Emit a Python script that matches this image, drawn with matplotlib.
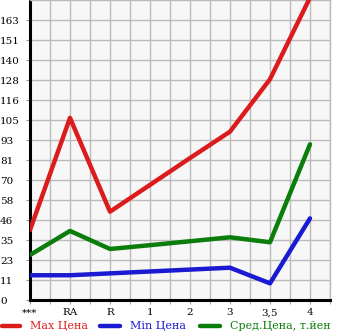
import numpy as np
import matplotlib.pyplot as plt
from matplotlib.lines import Line2D

# values
categories = ['***', 'RA', 'R', '1', '2', '3', '3,5', '4']
max_price = [40.7, 106, 51.4, 67, 82.6, 98, 128.5, 176]
min_price = [14.4, 14.4, 15.5, 16.6, 17.7, 18.8, 9.7, 47.5]
avg_price = [26.2, 40.2, 29.7, 31.9, 34.2, 36.5, 33.6, 90.6]
ytick_labels = ['0', '11', '23', '35', '46', '58', '70', '81', '93', '105',
                '116', '128', '140', '151', '163']
legend_labels = ['Max Цена', 'Min Цена', 'Сред.Цена, т.йен']

step = 174.6 / 15
red = '#dc1c1c'
blue = '#1a1ad2'
green = '#0a7d0a'
W, H = 345, 335

fig = plt.figure(figsize=(3.45, 3.35), dpi=100)
ax = fig.add_axes([30 / W, 35 / H, 300 / W, 300 / H])
ax.set_facecolor('#f7f7f7')

x = np.arange(len(categories))
ax.plot(x, max_price, color=red, lw=3.2, solid_capstyle='round', zorder=3)
ax.plot(x, avg_price, color=green, lw=3.2, solid_capstyle='round', zorder=3)
ax.plot(x, min_price, color=blue, lw=3.2, solid_capstyle='round', zorder=3)

ax.set_xlim(0, 7.5)
ax.set_ylim(0, 15 * step)

ax.set_xticks(x)
ax.set_xticklabels(categories, fontsize=7.5, fontfamily='DejaVu Serif')
ax.set_xticks(np.arange(0.5, 7.6, 1.0), minor=True)
ax.set_yticks(np.arange(15) * step)
ax.set_yticklabels(ytick_labels, fontsize=7.5, fontfamily='DejaVu Serif')
for lab in ax.get_yticklabels():
    lab.set_horizontalalignment('left')
ax.tick_params(axis='y', length=3, color='#999999', pad=18.6)
ax.tick_params(axis='x', which='minor', length=3, color='#999999')
ax.tick_params(axis='x', which='major', length=3, color='#999999', pad=3)

ax.grid(True, which='both', color='#bbbbbb', lw=1)
ax.set_axisbelow(True)

for s in ['top', 'right']:
    ax.spines[s].set_color('#bbbbbb')
    ax.spines[s].set_linewidth(1)
for s in ['left', 'bottom']:
    ax.spines[s].set_color('black')
    ax.spines[s].set_linewidth(2.2)

# legend row along the bottom
ly = (H - 326) / H
for (x0, x1, tx), c, lab in zip([(2, 20, 30), (100, 120, 130), (200, 220, 230)],
                                (red, blue, green), legend_labels):
    fig.add_artist(Line2D([x0 / W, x1 / W], [ly, ly], color=c, lw=3.2,
                          solid_capstyle='round'))
    fig.text(tx / W, ly, lab, color=c, fontsize=8, fontfamily='DejaVu Serif',
             va='center', ha='left')

fig.savefig('out.png', dpi=100)
